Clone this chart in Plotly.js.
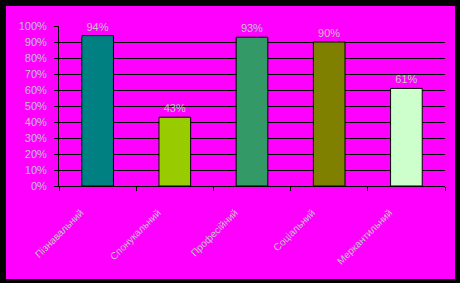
<!DOCTYPE html>
<html>
<head>
<meta charset="utf-8">
<script src="https://cdn.plot.ly/plotly-3.0.1.min.js"></script>
<style>html,body{margin:0;padding:0;background:#000;}#chart{width:460px;height:283px;}</style>
</head>
<body>
<div id="chart"></div>
<script>
var categories = ["Пізнавальний", "Спонукальний", "Професійний", "Соціальний", "Меркантильний"];
var values = [0.94, 0.43, 0.93, 0.90, 0.61];
var barColors = ["#008080", "#99CC00", "#339966", "#808000", "#CCFFCC"];
var yTickVals = [0, 0.1, 0.2, 0.3, 0.4, 0.5, 0.6, 0.7, 0.8, 0.9, 1.0];
var yTickText = ["0%", "10%", "20%", "30%", "40%", "50%", "60%", "70%", "80%", "90%", "100%"];

var textGrey = "#c4c4c4";
var fontFam = "Liberation Sans, Arial, sans-serif";

var trace = {
  type: "bar",
  x: categories,
  y: values,
  marker: {color: barColors, line: {color: "#000000", width: 1}},
  texttemplate: "%{y:.0%}",
  textposition: "outside",
  cliponaxis: false,
  textfont: {family: fontFam, size: 11, color: textGrey},
  hoverinfo: "none"
};

var layout = {
  width: 460,
  height: 283,
  margin: {l: 59, r: 15, t: 26, b: 97},
  paper_bgcolor: "#000000",
  plot_bgcolor: "rgba(0,0,0,0)",
  bargap: 0.59,
  showlegend: false,
  font: {family: fontFam, size: 11, color: textGrey},
  xaxis: {
    type: "category",
    tickangle: -45,
    tickson: "boundaries",
    ticks: "outside",
    ticklen: 4,
    tickcolor: "#000000",
    tickwidth: 1,
    showline: true,
    linecolor: "#000000",
    linewidth: 1,
    showgrid: false,
    ticklabelshift: -17,
    ticklabelstandoff: 16,
    tickfont: {family: fontFam, size: 10, color: textGrey}
  },
  yaxis: {
    range: [0, 1],
    tickvals: yTickVals,
    ticktext: yTickText,
    ticks: "outside",
    ticklen: 4,
    tickcolor: "#000000",
    showline: true,
    linecolor: "#000000",
    linewidth: 1,
    showgrid: true,
    gridcolor: "#000000",
    gridwidth: 1,
    zeroline: false,
    ticklabelstandoff: 5,
    tickfont: {family: fontFam, size: 11, color: textGrey}
  },
  shapes: [{
    type: "rect",
    xref: "paper", yref: "paper",
    x0: -0.1373, x1: 1.0259,
    y0: -0.58125, y1: 1.125,
    fillcolor: "#FF00FF",
    line: {width: 0},
    layer: "below"
  }]
};

Plotly.newPlot("chart", [trace], layout, {staticPlot: true, displayModeBar: false});
</script>
</body>
</html>
